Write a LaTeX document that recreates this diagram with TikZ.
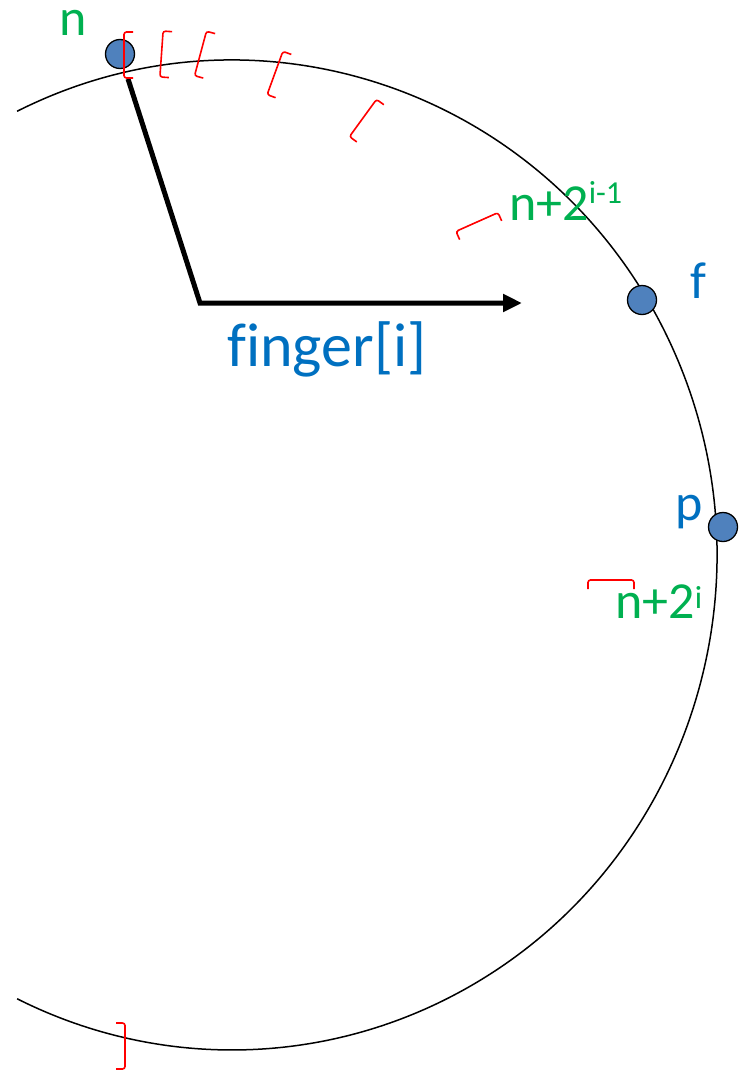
\documentclass[tikz,border=0pt]{standalone}
\usepackage{fontspec}
\setmainfont{Carlito}[Ligatures=CommonOff]
\usetikzlibrary{arrows.meta,calc,positioning}
\definecolor{peerfill}{HTML}{4F81BD}
\definecolor{idblue}{HTML}{0070C0}
\definecolor{idgreen}{HTML}{00B050}
\definecolor{ivred}{HTML}{FF0000}
\newcommand\supx[2]{\raisebox{#1}{\fontsize{32}{32}\selectfont #2}}

\begin{document}
\begin{tikzpicture}[x=1pt,y=-1pt,
 peer/.style={circle,draw,line width=1.3pt,fill=peerfill,minimum size=29pt,inner sep=0pt},
 lab/.style={inner sep=0pt,anchor=base west,font=\fontsize{52}{52}\selectfont},
 ivl/.pic={\draw[ivred,line width=1.6pt,rounded corners=2.5pt](9,-23)--(0,-23)--(0,23)--(9,23);}]
 \useasboundingbox(0,0)rectangle(744,1071);
 % the ring
 \draw[line width=1.5pt](232,555)++(243.7:485 and 495)arc[start angle=243.7,end angle=476.3,x radius=485,y radius=495];
 \node[peer](n)at(120,54){};
 \node[peer](f)at(642,300){};
 \node[peer](p)at(723,527){};
 \coordinate(hub)at(200,303);
 \coordinate(tip)at(522,303);
 \draw[line width=5pt,shorten <=11pt,-{Triangle[length=19pt,width=17pt]}](n)--(hub)--(tip);
 % interval starts
 \foreach \ix/\iy/\ang in {124/55/0,161.5/54/-4,200.5/53.5/-15,275/73/-20,363/118/-36,477/222/-66,611/580/-90,125/1046/180}{
  \pic[rotate=\ang]at(\ix,\iy){ivl};}
 \node[lab,text=idgreen](ln)at(59,35){n};
 \node[lab,text=idgreen](lhalf)at(509,220){n+2\supx{17pt}{i-1}};
 \node[lab,text=idgreen](lfull)at(615,618){n+2\supx{10pt}{i}};
 \node[lab,text=idblue](lf)at(690,298){f};
 \node[lab,text=idblue](lp)at(675,520){p};
 \node[lab,text=idblue,font=\fontsize{62}{62}\selectfont](lfing)at(227,366){finger[i]};
\end{tikzpicture}
\end{document}
